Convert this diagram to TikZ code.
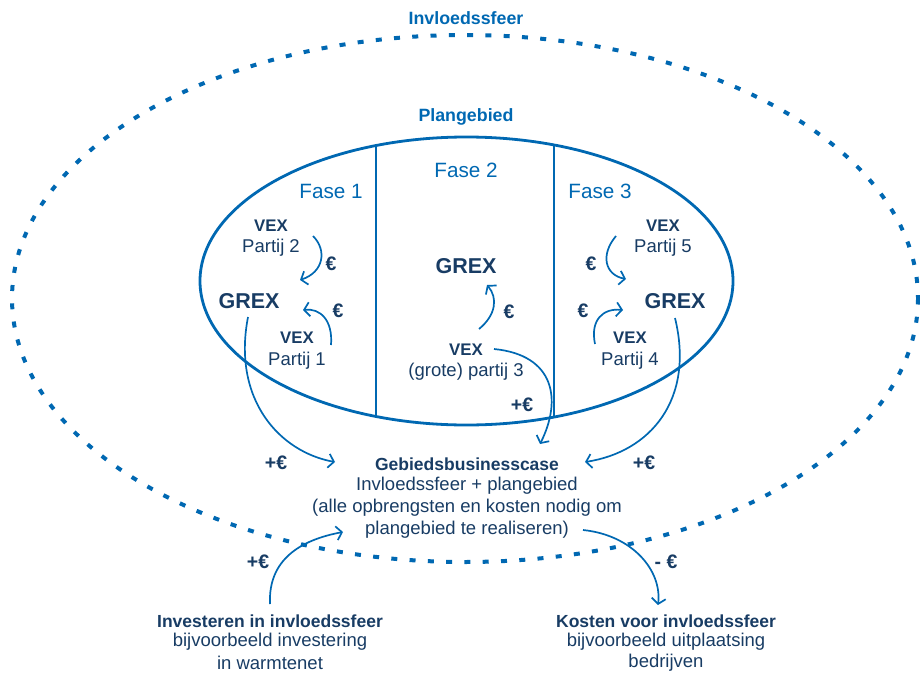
\documentclass[tikz,border=0pt]{standalone}
\usepackage{fontspec}
\setmainfont{Liberation Sans}
\usetikzlibrary{arrows.meta}
\definecolor{lineblue}{RGB}{0,104,178}
\definecolor{navy}{RGB}{24,60,100}
\begin{document}
\begin{tikzpicture}[x=1pt,y=-1pt,
  txt/.style={text=navy,font=\fontsize{18.5}{22}\selectfont,inner sep=0pt,align=center},
  bold/.style={txt,font=\fontsize{17.5}{22}\selectfont\bfseries},
  euro/.style={txt,font=\fontsize{19.5}{22}\selectfont\bfseries},
  vex/.style={txt,font=\fontsize{16.8}{20}\selectfont\bfseries},
  grex/.style={text=navy,font=\fontsize{21.5}{24}\selectfont\bfseries,inner sep=0pt},
  fase/.style={text=lineblue,font=\fontsize{20.7}{24}\selectfont,inner sep=0pt},
  title/.style={text=lineblue,font=\fontsize{17.8}{20}\selectfont\bfseries,inner sep=0pt},
  flow/.style={draw=lineblue,line width=1.7pt,-{Straight Barb[length=5.5pt,width=14pt,line width=1.7pt]}}
]
\path[use as bounding box] (0,0) rectangle (920,674);

% sphere of influence (dotted) and plan area
\draw[lineblue,line width=4pt,dash pattern=on 6pt off 12.3pt] (465,298.5) ellipse [x radius=453, y radius=263.5];
\draw[lineblue,line width=2.8pt] (466.5,281) ellipse [x radius=266.5, y radius=144];
\begin{scope}
  \clip (466.5,281) ellipse [x radius=266.5, y radius=144];
  \draw[lineblue,line width=2.8pt] (376,100) -- (376,460);
  \draw[lineblue,line width=2.8pt] (554,100) -- (554,460);
\end{scope}

% titles
\node[title] (invl) at (466,18) {Invloedssfeer};
\node[title] (plan) at (466,117) {Plangebied};
\node[fase] (f1) at (331,191) {Fase 1};
\node[fase] (f2) at (466,170) {Fase 2};
\node[fase] (f3) at (600,191) {Fase 3};

% phase 1
\node[vex] (v2) at (271,226) {VEX};
\node[txt] (p2) at (271,248) {Partij 2};
\node[euro] (e1a) at (331,264) {€};
\node[grex] (g1) at (249,301) {GREX};
\node[euro] (e1b) at (338,311) {€};
\node[vex] (v1) at (297,338) {VEX};
\node[txt] (p1) at (297,361) {Partij 1};

% phase 2
\node[grex] (g2) at (466,266) {GREX};
\node[euro] (e2) at (509,312) {€};
\node[vex] (v3) at (466,350) {VEX};
\node[txt] (p3) at (466,372) {(grote) partij 3};
\node[euro] (e3) at (522,405) {+€};

% phase 3
\node[vex] (v5) at (663,226) {VEX};
\node[txt] (p5) at (663,248) {Partij 5};
\node[euro] (e5) at (591,264) {€};
\node[grex] (g3) at (675,301) {GREX};
\node[euro] (e4) at (583,311) {€};
\node[vex] (v4) at (630,338) {VEX};
\node[txt] (p4) at (630,361) {Partij 4};

% business case
\node[euro] (el) at (276,463) {+€};
\node[euro] (er) at (644,463) {+€};
\node[bold] (gb) at (467,464) {Gebiedsbusinesscase};
\node[txt] (gb1) at (467,486) {Invloedssfeer + plangebied};
\node[txt] (gb2) at (467,508) {(alle opbrengsten en kosten nodig om};
\node[txt] (gb3) at (467,530) {plangebied te realiseren)};

% investments and costs
\node[euro] (ei) at (258,562) {+€};
\node[euro] (ek) at (666,562) {- €};
\node[bold] (inv) at (270,621) {Investeren in invloedssfeer};
\node[txt] (inv1) at (270,642) {bijvoorbeeld investering};
\node[txt] (inv2) at (270,663) {in warmtenet};
\node[bold] (kos) at (666,621) {Kosten voor invloedssfeer};
\node[txt] (kos1) at (666,642) {bijvoorbeeld uitplaatsing};
\node[txt] (kos2) at (666,663) {bedrijven};

% arrow end points
\coordinate (a1s) at (313,236); \coordinate (a1e) at (300,280);
\coordinate (a2s) at (331,345); \coordinate (a2e) at (303,310);
\coordinate (a3s) at (248,317); \coordinate (a3e) at (335,462);
\coordinate (a4s) at (479,329); \coordinate (a4e) at (487,285);
\coordinate (a5s) at (494,349); \coordinate (a5e) at (540,444);
\coordinate (a6s) at (616,236); \coordinate (a6e) at (626,279);
\coordinate (a7s) at (595,344); \coordinate (a7e) at (623,310);
\coordinate (a8s) at (675,318); \coordinate (a8e) at (585,462);
\coordinate (a9s) at (270,604); \coordinate (a9e) at (343,532);
\coordinate (a10s) at (583,530); \coordinate (a10e) at (658,605);

% money flows
\draw[flow] (a1s) .. controls (327,250) and (324,272) .. (a1e);
\draw[flow] (a2s) .. controls (333,320) and (320,308) .. (a2e);
\draw[flow] (a3s) .. controls (232,400) and (280,452) .. (a3e);
\draw[flow] (a4s) .. controls (496,315) and (498,298) .. (a4e);
\draw[flow] (a5s) .. controls (555,355) and (562,400) .. (a5e);
\draw[flow] (a6s) .. controls (600,255) and (605,275) .. (a6e);
\draw[flow] (a7s) .. controls (590,320) and (603,308) .. (a7e);
\draw[flow] (a8s) .. controls (695,400) and (650,452) .. (a8e);
\draw[flow] (a9s) .. controls (268,560) and (300,540) .. (a9e);
\draw[flow] (a10s) .. controls (632,535) and (662,570) .. (a10e);
\end{tikzpicture}
\end{document}
